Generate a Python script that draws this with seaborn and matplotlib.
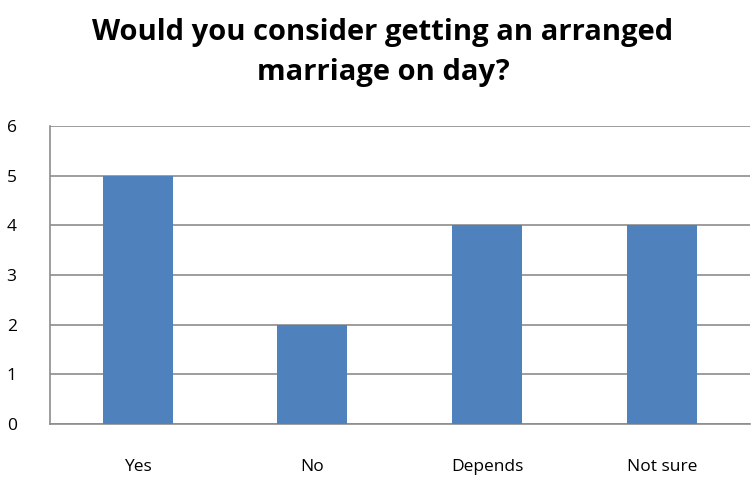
import pandas as pd
import seaborn as sns
import matplotlib.pyplot as plt

# Survey answers
answers = ['Yes', 'No', 'Depends', 'Not sure']
counts = [5, 2, 4, 4]

df = pd.DataFrame({'Answer': answers, 'Count': counts})

sns.set_style('white')
plt.rcParams['font.family'] = ['Open Sans', 'DejaVu Sans']
plt.rcParams['text.color'] = 'black'
plt.rcParams['xtick.color'] = 'black'
plt.rcParams['ytick.color'] = 'black'

fig = plt.figure(figsize=(7.51, 4.78), dpi=100)
ax = fig.add_axes([0.0666, 0.113, 0.932, 0.623])

sns.barplot(ax=ax, data=df, x='Answer', y='Count', color='#4F81BD',
            width=0.4, saturation=1, linewidth=0, edgecolor='none', zorder=3)

ax.set_ylim(0, 6)
ax.set_xlim(-0.5, 3.5)
ax.set_yticks(range(0, 7))
ax.yaxis.grid(True, color='#8c8c8c', linewidth=1.2, zorder=0)
ax.set_axisbelow(True)
ax.set_xlabel('')
ax.set_ylabel('')

for side in ['top', 'right']:
    ax.spines[side].set_visible(False)
for side in ['left', 'bottom']:
    ax.spines[side].set_color('#8c8c8c')
    ax.spines[side].set_linewidth(1.2)

ax.tick_params(axis='y', length=0, pad=24, labelsize=12.5)
ax.tick_params(axis='x', length=0, pad=25, labelsize=12.5)

fig.text(0.51, 0.89, 'Would you consider getting an arranged\nmarriage on day?',
         ha='center', va='center', fontsize=21, fontweight='bold',
         linespacing=1.5)

plt.savefig('out.png', dpi=100)
